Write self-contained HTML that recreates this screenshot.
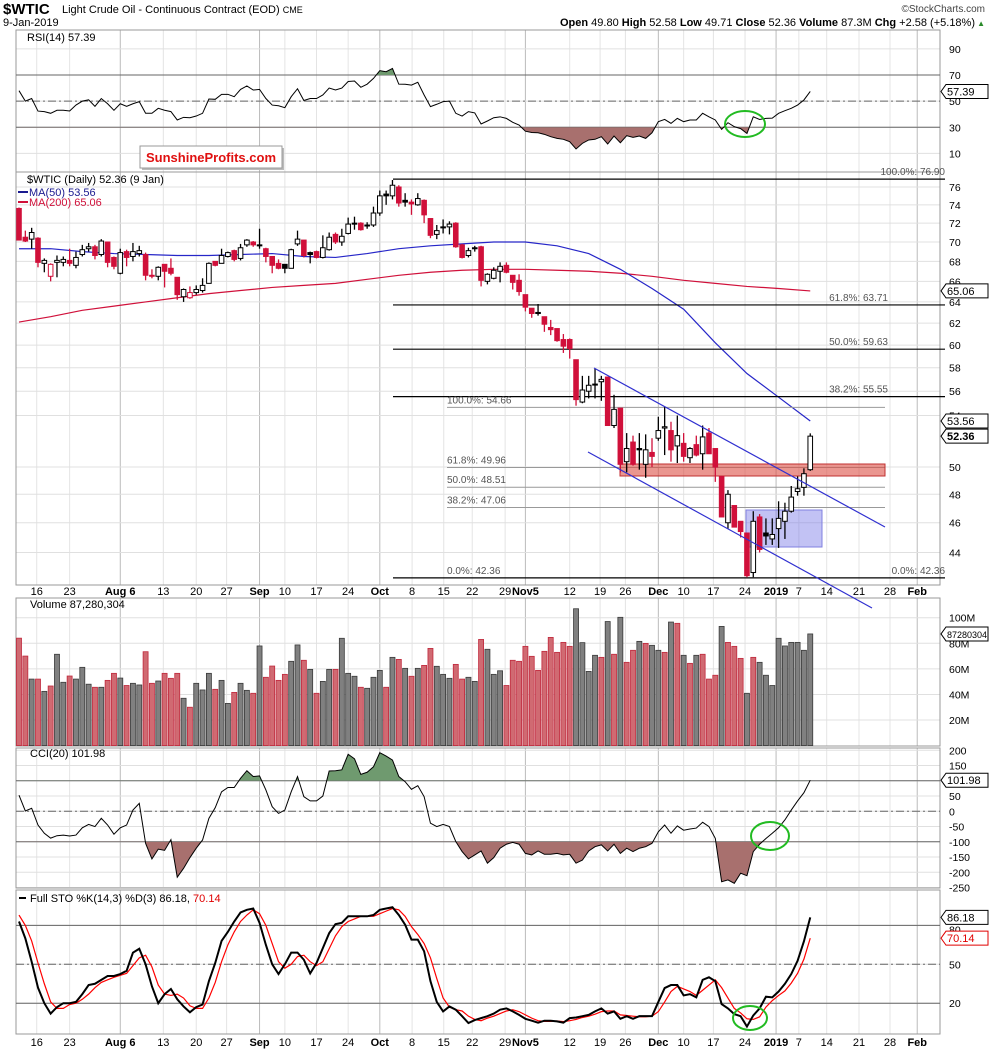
<!DOCTYPE html>
<html><head><meta charset="utf-8">
<style>
body{margin:0;background:#fff;}
svg{display:block;font-family:"Liberation Sans",sans-serif;}
</style></head>
<body>
<svg id="chart" width="990" height="1051" viewBox="0 0 990 1051" xmlns="http://www.w3.org/2000/svg">
<rect x="0" y="0" width="990" height="1051" fill="#fff"/>
<g id="grid"></g>
<g id="panels"></g>
<g id="marks"></g>
<g id="labels" font-size="11" fill="#000"></g>
<g>
<text x="3" y="14" font-size="15" font-weight="bold">$WTIC</text>
<text x="62" y="13" font-size="11">Light Crude Oil - Continuous Contract (EOD) <tspan font-size="9">CME</tspan></text>
<text x="3" y="26" font-size="11">9-Jan-2019</text>
<text x="985" y="12" font-size="10" text-anchor="end" fill="#444">©StockCharts.com</text>
<text x="975" y="26" font-size="11" text-anchor="end"><tspan font-weight="bold">Open</tspan> 49.80 <tspan font-weight="bold">High</tspan> 52.58 <tspan font-weight="bold">Low</tspan> 49.71 <tspan font-weight="bold">Close</tspan> 52.36 <tspan font-weight="bold">Volume</tspan> 87.3M <tspan font-weight="bold">Chg</tspan> +2.58 (+5.18%)</text>
<text x="985" y="26" font-size="8" text-anchor="end" fill="#2a8a2a">▲</text>
</g>
<g>
<rect x="142" y="148" width="142" height="22" fill="#bbb"/>
<rect x="140" y="146" width="142" height="22" fill="#fff" stroke="#999"/>
<text x="211" y="162" font-size="13" font-weight="bold" fill="#e01010" text-anchor="middle">SunshineProfits.com</text>
</g>
</svg>
<script>
const N = 126;
const opens=[73.6,70.5,70.3,70.4,67.8,66.5,67.9,67.9,68.1,67.6,68.7,69.3,69.5,68.7,70.0,68.4,66.8,69.0,68.5,68.8,68.7,66.6,66.5,67.7,67.3,66.4,64.5,64.4,64.9,65.1,65.8,68.0,67.8,68.5,69.1,68.3,69.7,70.0,69.7,69.3,68.5,67.8,67.7,67.3,69.8,70.2,68.9,69.0,68.4,69.2,70.8,70.0,70.9,72.0,72.0,71.7,71.8,73.1,75.2,75.0,76.0,74.5,74.3,74.0,74.5,72.5,70.8,71.6,71.6,72.0,69.7,68.6,69.4,69.5,66.0,66.3,67.0,67.6,66.6,66.1,64.7,63.4,63.0,62.6,61.6,61.5,60.5,60.5,58.7,55.1,56.0,56.6,56.8,57.2,53.2,54.6,50.4,51.9,51.4,50.2,51.1,52.2,53.0,52.8,51.6,51.8,50.7,51.7,51.0,52.6,51.4,49.3,46.0,47.2,46.1,45.3,42.7,46.4,45.3,44.9,45.6,46.1,46.8,48.2,48.5,49.8];
const highs=[73.7,71.2,71.5,70.5,68.3,67.8,68.6,68.5,69.3,69.0,69.7,69.9,69.7,70.3,70.0,68.5,69.3,69.2,69.9,69.6,68.9,67.2,67.5,67.7,68.3,66.4,65.3,65.5,65.6,66.3,67.9,68.0,69.3,69.0,69.2,69.8,70.3,70.1,71.4,69.4,68.5,68.2,67.7,69.3,71.2,70.2,69.0,69.1,70.7,71.0,71.0,71.4,72.6,72.7,72.1,72.1,73.8,75.6,75.6,76.8,76.2,75.3,74.6,75.3,74.6,72.5,71.8,72.4,72.2,72.1,69.8,69.4,69.6,69.6,66.8,67.4,67.9,67.9,66.6,66.7,64.7,63.4,63.8,62.6,62.3,61.5,61.0,60.6,58.7,57.3,57.3,57.9,57.3,57.2,55.7,54.6,52.6,52.4,52.6,52.5,52.2,53.9,54.7,53.5,54.0,52.6,51.5,52.4,53.2,53.0,51.4,49.3,48.3,47.2,46.1,45.3,46.8,46.6,46.3,46.3,47.5,47.4,48.6,49.3,49.9,52.58];
const lows=[70.2,70.0,69.3,67.4,66.9,66.0,66.4,67.5,67.5,67.3,68.5,69.0,68.2,68.5,67.4,67.2,66.7,67.5,68.0,68.5,66.1,66.3,66.1,65.4,66.6,64.2,64.0,64.3,64.7,64.9,65.8,67.5,67.8,68.4,68.0,68.1,69.5,69.5,69.3,67.9,66.8,67.2,66.8,67.3,69.6,68.4,67.8,68.3,68.3,69.1,69.8,69.6,70.8,71.3,71.2,71.4,71.6,72.8,74.0,74.6,73.8,73.8,72.9,73.9,72.0,70.4,70.3,70.9,70.8,69.4,68.3,68.4,69.0,65.5,65.7,66.2,65.9,66.8,65.2,64.6,63.1,62.5,62.7,61.2,60.9,60.3,59.3,58.8,54.8,55.0,55.4,55.4,55.2,53.2,53.0,49.6,49.6,50.1,49.8,49.2,50.0,52.0,50.9,50.4,50.3,50.4,50.3,50.8,49.8,51.0,48.9,46.4,45.6,45.7,45.0,42.4,42.4,44.0,44.5,44.5,44.3,44.9,46.7,47.9,47.9,49.71];
const closes=[70.2,70.1,71.0,67.9,68.1,67.7,68.1,68.2,67.8,68.4,69.2,69.5,68.6,70.1,67.9,67.5,68.9,68.4,69.0,69.1,66.6,66.5,67.4,67.0,66.8,64.7,65.2,64.9,65.2,65.6,67.8,67.6,68.6,68.9,68.2,69.4,70.2,69.7,69.7,68.5,67.6,67.3,67.3,69.2,70.3,68.6,68.7,68.4,69.4,70.5,70.0,70.6,71.9,72.0,71.3,71.8,73.1,75.0,75.0,76.2,74.2,74.3,74.1,74.7,72.9,70.7,71.2,71.6,71.9,69.5,68.4,69.1,69.3,66.1,66.7,67.1,67.5,66.9,65.9,65.0,63.5,62.9,62.9,61.9,61.4,60.4,59.9,59.7,55.3,56.1,56.5,56.6,57.0,53.2,54.5,50.2,51.4,50.2,51.3,51.3,50.8,52.8,53.1,51.3,52.4,50.8,51.4,50.9,52.3,51.0,50.0,46.4,48.0,45.7,45.4,42.5,46.1,44.2,45.1,45.2,46.3,46.8,47.8,48.4,49.5,52.36];
// MA values sampled every 5 sessions (sessions 1,6,11,...,126)
const ma50=[69.3,69.3,69.0,68.8,68.7,68.6,68.6,68.7,68.8,68.5,68.4,68.8,69.3,69.6,69.8,70.0,70.0,69.6,68.8,67.2,65.3,63.3,60.2,57.5,55.5,53.56];
const ma200=[62.1,62.6,63.2,63.6,64.0,64.4,64.8,65.1,65.4,65.6,65.8,66.2,66.6,66.9,67.1,67.2,67.2,67.1,67.0,66.8,66.5,66.1,65.8,65.5,65.3,65.06];
const rsi=[58,50,52,42.4,42,40.7,43,43,42.5,47,50,51,46,52,48,43,48,46,48,49.6,40.7,40.7,44.5,43,42,35.6,37.6,37.3,38.6,40.7,51.6,51.4,55.2,55.2,53.4,59,61.6,58.5,59,52,47,46.5,45,53.4,59.5,50.5,52,52,54.7,60,58.5,60,65,65.4,60.6,63,67.4,73.3,72.5,75,63,62.9,62.3,64.4,54.7,45.8,47.6,49.6,50,40.7,38.6,42,41,32.5,34.8,37.3,38,36.8,33.8,31.7,27,26,25.8,24.6,22.8,21.5,20.8,19,13.4,17.7,20.3,20.8,22.8,17.2,23.3,18.2,23.6,22.3,23.3,21.5,25.8,34.3,36,33,36.8,34.3,35.6,35.6,40.7,38,35.6,28.4,33.5,30.5,29,25.3,38,36,36.8,37,40.7,42.7,44.5,47,50.9,57.39];
const volumes=[84,70,52,52,42.4,46.6,71.4,49.5,54.4,52,61.2,48,45.6,45.6,51,56.5,52.8,47,48.7,47.4,73.4,48.7,50.5,56.5,52.6,56.5,37,30,48.7,43.5,56.5,44,51,33,41.6,48.7,43.2,40.9,77.9,53.4,62.2,51,55.7,65.9,78.7,66.7,59.6,40.9,50.2,59.6,59.6,83.9,56.5,54.2,45.6,44.8,53.4,58.8,45.6,69,67.4,60.4,54.2,60.4,62.7,76,62,55.7,52.6,63.5,52,53.4,50.2,83,75.3,55.7,58.5,47,66.7,65.9,77.6,69.8,58.8,73.7,84.6,72.9,80.7,77.6,107,80.5,58,70.6,69,97,71.4,100.3,65.1,74.5,81.5,79.9,78.4,74.5,72.9,96.6,95.6,70.6,64.3,70.6,71.4,52,55,93.2,80.7,77.6,68.2,40.9,69,65.1,55,47,83.9,77.9,80.7,80.7,74.5,87.3];
const volDir="rrgrgrggrgggrgrrgrggrrgrrrgrgggrggrggrgrrrrggrgrggrgggrgggrgrgrgrrgggrrggrgggrrrrrrrrrrrggggrgrgrrgrggrgrgrgrrrgrrrgrgggggggg";
const cci=[53,1,10,-45,-72,-88,-80,-78,-81,-78,-54,-43,-50,-23,-45,-75,-54,-45,4,26,-105,-156,-124,-128,-93,-216,-187,-152,-121,-94,-23,12,64,78,78,108,133,114,116,70,15,-7,4,64,114,48,34,34,50,132,133,136,187,172,121,128,146,192,181,168,114,97,72,84,48,-39,-50,-43,-50,-99,-132,-156,-143,-130,-170,-152,-121,-108,-102,-108,-138,-143,-130,-141,-141,-138,-143,-141,-170,-160,-130,-116,-110,-130,-108,-138,-121,-132,-121,-116,-105,-67,-45,-72,-48,-62,-58,-55,-36,-50,-89,-231,-225,-236,-203,-211,-132,-108,-89,-72,-54,-28,4,34,61,101.98];
const stoK=[83,70,52,32,20,12,17,20,20,21,27,34,35,38,41,41,42.5,45,59,62,50,33,20,27,31,23,17.5,13,17,19,37,51,68,75,83,90,92,93,82,65,50,42.5,50,59,59,53.5,43,51,62.5,74,81,82,87,87,87,87,88,92,93,94,88,80.5,69,69,60,37,21,13.7,17.5,15,10,4.7,7,8.5,10,12,15,16,13.7,11,8,6.5,5,6.5,6.5,6,5,8.5,9,10,11,13.7,16,12,13.7,8,10,8,10,10,10,21,31.7,34,34,26,27,24.5,38,40,37,19.3,16,11.6,10,2,10.6,16,25,24.5,29,35,42.5,52.7,67.7,86.18];
const stoD=[88,80,68,51,35,21,16,16,19,20,23,27,32,36,38,40,41.5,43,49,55,57,48,34,27,26,27,24,18,16,16,24,36,52,65,75,83,88,92,89,80,66,52,47,50,56,57,52,49,52,62,72,79,83,85,87,87,87,89,91,93,92,87,79,73,66,55,39,24,17,15,14,10,7.5,6.5,8.5,10,12,14,15,13.5,11,8.5,6.5,6,6,6.3,5.8,6.5,7.5,9,10,11.5,13.5,14,14,11,10.5,10,9.5,9.5,10,13.5,21,29,33,31,29,26,30,34,38,32,24,16,12.5,8,7.5,9.5,17,22,26,29.5,35.5,43,54,70.14];
const dateLabels=["16","23","Aug 6","13","20","27","Sep","10","17","24","Oct","8","15","22","29","Nov5","12","19","26","Dec","10","17","24","2019","7","14","21","28","Feb"];
const dateSession=[3.8,9,17,23.8,29,33.8,39,43,48,53,58,63.1,68.1,72.6,77.8,81,88,92.8,96.8,102,106,110.7,115.7,120.6,124.2,128.6,133.7,138.6,142.9];
const priceTicks=[76,74,72,70,68,66,64,62,60,58,56,54,50,48,46,44];
const rsiTicks=[90,70,50,30,10];
const volTicks=[100,80,60,40,20];
const cciTicks=[200,150,100,50,0,-50,-100,-150,-200,-250];
const stoTicks=[50,20];
const fibUpper=[[76.90,"100.0%: 76.90"],[63.71,"61.8%: 63.71"],[59.63,"50.0%: 59.63"],[55.55,"38.2%: 55.55"]];
const fibLower=[[54.66,"100.0%: 54.66"],[49.96,"61.8%: 49.96"],[48.51,"50.0%: 48.51"],[47.06,"38.2%: 47.06"]];
const fibZero=42.36;

const NS="http://www.w3.org/2000/svg";
const X0=19, DX=6.33, PL=16, PR=940;
function xOf(i){return X0+i*DX;}
function xDate(s){return X0+(s-1)*DX;}
function yP(v){return 187+(Math.log(76)-Math.log(v))*668.7;}
function yR(v){return 75+(70-v)*1.307;}
function yV(m){return 745.6-m*1.279;}
function yC(v){return 811.3-v*0.305;}
function yS(v){return 964.3-(v-50)*1.297;}
function el(tag,attrs,parent){const e=document.createElementNS(NS,tag);for(const k in attrs)e.setAttribute(k,attrs[k]);parent.appendChild(e);return e;}
const grid=document.getElementById('grid'), panels=document.getElementById('panels'), marks=document.getElementById('marks'), labels=document.getElementById('labels');
const svg=document.getElementById('chart');

const P=[{n:'rsi-panel',t:30,b:172},{n:'price-panel',t:172,b:585},{n:'volume-panel',t:598,b:746},{n:'cci-panel',t:748,b:888},{n:'sto-panel',t:890,b:1034}];
P.forEach(p=>{
  dateSession.forEach((s,j)=>{
    const x=xDate(s);const m=/[A-Za-z]|2019/.test(dateLabels[j]);
    const g=el('line',{x1:x,x2:x,y1:p.t,y2:p.b,stroke:m?'#bbb':'#e4e4e4','stroke-width':1},grid);
    
    
  });
});
function hgrid(y){const g=el('line',{x1:PL,x2:PR,y1:y,y2:y,stroke:'#e0e0e0'},grid);}
function rlabel(txt,y,name){const t=el('text',{x:949,y:y+4,'font-size':10.5},labels);t.textContent=txt;}
P.forEach(p=>{const r=el('rect',{x:PL,y:p.t,width:PR-PL,height:p.b-p.t,fill:'none',stroke:'#999'},panels);});

// RSI
rsiTicks.forEach(v=>{hgrid(yR(v));rlabel(String(v),yR(v),'rsi-tick-label');});
[70,30].forEach(v=>el('line',{x1:PL,x2:PR,y1:yR(v),y2:yR(v),stroke:'#666'},panels));
el('line',{x1:PL,x2:PR,y1:yR(50),y2:yR(50),stroke:'#666','stroke-dasharray':'8,3,2,3'},panels);
function bandArea(vals,yf,hi,lo,name){
  const pts=vals.map((v,i)=>xOf(i)+','+yf(v)).join(' ');
  const defs=el('defs',{},svg);
  const yH=yf(hi),yL=yf(lo);
  const ca=el('clipPath',{id:name+'-hi'},defs);el('rect',{x:0,y:0,width:990,height:yH},ca);
  const cb=el('clipPath',{id:name+'-lo'},defs);el('rect',{x:0,y:yL,width:990,height:1051-yL},cb);
  const x1=xOf(0),x2=xOf(vals.length-1);
  const a=el('polygon',{points:pts+' '+x2+','+yH+' '+x1+','+yH,fill:'#6f9a6f','clip-path':'url(#'+name+'-hi)'},marks);
  
  const b=el('polygon',{points:pts+' '+x2+','+yL+' '+x1+','+yL,fill:'#a8706e','clip-path':'url(#'+name+'-lo)'},marks);
  
  const l=el('polyline',{points:pts,fill:'none',stroke:'#000','stroke-width':1},marks);
  
}
bandArea(rsi,yR,70,30,'rsi');

// Price
priceTicks.forEach(v=>{hgrid(yP(v));rlabel(String(v),yP(v),'price-tick-label');});
function maLine(arr,color,name){const pts=arr.map((v,j)=>xOf(j*5)+','+yP(v)).join(' ');const l=el('polyline',{points:pts,fill:'none',stroke:color,'stroke-width':1.2},marks);}
maLine(ma200,'#d0103a','ma200-line');
maLine(ma50,'#2626c8','ma50-line');
fibUpper.forEach(([v,t],j)=>{el('line',{x1:393,x2:945,y1:yP(v),y2:yP(v),stroke:'#000','stroke-width':1.2},marks);const tx=el('text',{x:j==0?945:888,y:yP(v)-4,'font-size':10,fill:'#555','text-anchor':'end'},labels);tx.textContent=t;});
fibLower.forEach(([v,t])=>{el('line',{x1:447,x2:885,y1:yP(v),y2:yP(v),stroke:'#999','stroke-width':1},marks);const tx=el('text',{x:447,y:yP(v)-4,'font-size':10,fill:'#555'},labels);tx.textContent=t;});
el('line',{x1:393,x2:945,y1:yP(fibZero),y2:yP(fibZero),stroke:'#000','stroke-width':1.2},marks);
[[447,'start'],[945,'end']].forEach(([x,a])=>{const tx=el('text',{x:x,y:yP(fibZero)-4,'font-size':10,fill:'#555','text-anchor':a},labels);tx.textContent='0.0%: 42.36';});
const rz=el('rect',{x:620,y:464,width:265,height:12,fill:'rgba(220,80,70,0.6)',stroke:'#c03030'},marks);
const bz=el('rect',{x:746,y:510,width:76,height:37,fill:'rgba(120,120,230,0.45)',stroke:'#8080e0'},marks);
for(let i=0;i<N;i++){
  const x=xOf(i),o=opens[i],c=closes[i],h=highs[i],l=lows[i];
  const prev=i>0?closes[i-1]:c+1;
  const col=c<prev?'#d0103a':'#000';
  const filled=c<o;
  const g=el('g',{},marks);
  
  
  el('line',{x1:x,x2:x,y1:yP(h),y2:yP(l),stroke:col,'stroke-width':1.3},g);
  const yt=yP(Math.max(o,c)),yb=yP(Math.min(o,c));
  el('rect',{x:x-2.3,y:yt,width:4.6,height:Math.max(1,yb-yt),fill:filled?col:'#fff',stroke:col,'stroke-width':1},g);
}
[[594,368,885,527],[588,452,872,608]].forEach((c,j)=>{const l=el('line',{x1:c[0],y1:c[1],x2:c[2],y2:c[3],stroke:'#3030d0','stroke-width':1.2},marks);});

// Volume
volTicks.forEach(v=>{hgrid(yV(v));rlabel(v+'M',yV(v),'volume-tick-label');});
for(let i=0;i<N;i++){
  const r=volDir[i]==='r';
  const b=el('rect',{x:xOf(i)-2.5,y:yV(volumes[i]),width:5,height:745.6-yV(volumes[i]),fill:r?'#d06a72':'#808080',stroke:r?'#c0283c':'#3a3a3a','stroke-width':0.8},marks);
  
  
}

// CCI
cciTicks.forEach(v=>{hgrid(yC(v));rlabel(String(v),yC(v),'cci-tick-label');});
[100,-100].forEach(v=>el('line',{x1:PL,x2:PR,y1:yC(v),y2:yC(v),stroke:'#666'},panels));
el('line',{x1:PL,x2:PR,y1:yC(0),y2:yC(0),stroke:'#666','stroke-dasharray':'8,3,2,3'},panels);
bandArea(cci,yC,100,-100,'cci');

// STO
[80,50,20].forEach(v=>hgrid(yS(v)));
stoTicks.forEach(v=>rlabel(String(v),yS(v),'sto-tick-label'));
rlabel('80',yS(80)+4,'sto-tick-label');
[80,20].forEach(v=>el('line',{x1:PL,x2:PR,y1:yS(v),y2:yS(v),stroke:'#666'},panels));
el('line',{x1:PL,x2:PR,y1:yS(50),y2:yS(50),stroke:'#666','stroke-dasharray':'8,3,2,3'},panels);
const dl=el('polyline',{points:stoD.map((v,i)=>xOf(i)+','+yS(v)).join(' '),fill:'none',stroke:'#ff0000','stroke-width':1.2},marks);

const kl=el('polyline',{points:stoK.map((v,i)=>xOf(i)+','+yS(v)).join(' '),fill:'none',stroke:'#000','stroke-width':2},marks);


[595,1046].forEach(y=>{
  dateLabels.forEach((t,j)=>{
    const m=/[A-Za-z]|2019/.test(t);
    const tx=el('text',{x:xDate(dateSession[j]),y:y,'text-anchor':'middle','font-size':11,'font-weight':m?'bold':'normal'},labels);
    tx.textContent=t;
    
    
  });
});

function tag(txt,y,color,name,bold){
  const g=el('g',{},labels);
  
  
  el('polygon',{points:`941,${y} 946,${y-7} 988,${y-7} 988,${y+7} 946,${y+7}`,fill:'#fff',stroke:color},g);
  const t=el('text',{x:947,y:y+4,fill:color,'font-size':txt.length>6?9:11,'font-weight':bold?'bold':'normal'},g);t.textContent=txt;
}
tag('57.39',yR(57.39),'#000','rsi-value-tag');
tag('53.56',yP(53.56),'#000','ma50-value-tag');
tag('52.36',yP(52.36),'#000','close-value-tag',true);
tag('65.06',yP(65.06),'#000','ma200-value-tag');
tag('87280304',yV(87.3),'#000','volume-value-tag');
tag('101.98',yC(101.98),'#000','cci-value-tag');
tag('86.18',yS(86.18),'#000','sto-k-value-tag');
tag('70.14',yS(70.14),'#e00000','sto-d-value-tag');

function legend(x,y,txt,color,name){const t=el('text',{x:x,y:y,'font-size':11,fill:color},labels);t.textContent=txt;}
legend(27,41,'RSI(14) 57.39','#000','rsi-legend');
legend(27,183,'$WTIC (Daily) 52.36 (9 Jan)','#000','price-legend');
el('line',{x1:18,x2:28,y1:192,y2:192,stroke:'#1a1a90','stroke-width':2},labels);
legend(29,196,'MA(50) 53.56','#1a1a90','ma50-legend');
el('line',{x1:18,x2:28,y1:202,y2:202,stroke:'#d0103a','stroke-width':2},labels);
legend(29,206,'MA(200) 65.06','#d0103a','ma200-legend');
legend(30,608,'Volume 87,280,304','#000','volume-legend');
legend(30,757,'CCI(20) 101.98','#000','cci-legend');
const sl=el('text',{x:30,y:902,'font-size':11},labels);sl.innerHTML='Full STO %K(14,3) %D(3) 86.18, <tspan fill="#e00000">70.14</tspan>';

el('line',{x1:19,x2:26,y1:898,y2:898,stroke:'#000','stroke-width':2},labels);

[[745,124,20,13],[770,836,19,14],[750,1018,17,12]].forEach((c,j)=>{
  const e=el('ellipse',{cx:c[0],cy:c[1],rx:c[2],ry:c[3],fill:'none',stroke:'#22bb22','stroke-width':2},marks);
  
  
});
</script>
</body></html>
